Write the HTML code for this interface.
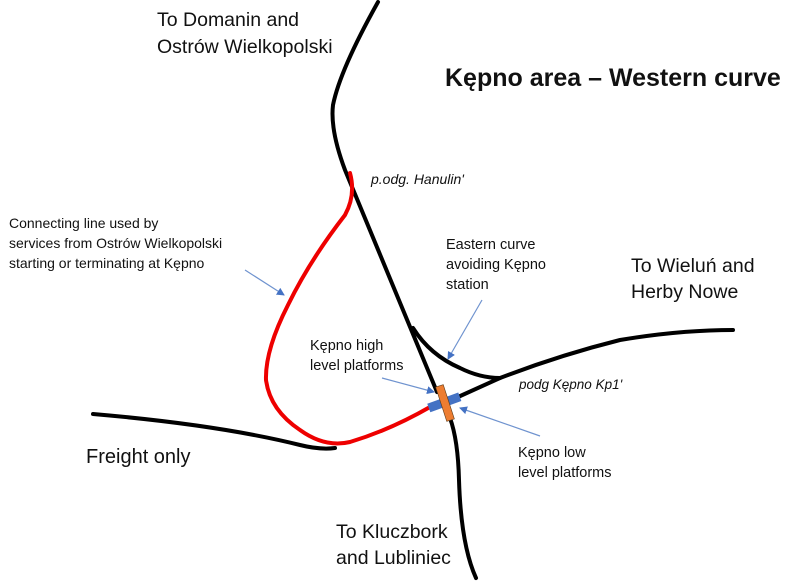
<!DOCTYPE html>
<html><head><style>
body{margin:0;background:#fff;}
svg{display:block;}
text{font-family:"Liberation Sans",sans-serif;fill:#111;}
</style></head><body>
<svg width="800" height="584" viewBox="0 0 800 584" xmlns="http://www.w3.org/2000/svg">
<defs><marker id="a" markerWidth="8" markerHeight="8" refX="7" refY="4" orient="auto" markerUnits="userSpaceOnUse"><path d="M0,0 L8,4 L0,8 z" fill="#4472c4"/></marker></defs>
<g fill="none" stroke="#000" stroke-width="4" stroke-linecap="round">
<path d="M378,2 Q340,70 333,105 Q330,130 345,170 L437,392"/>
<path d="M450,418 Q458,440 459,480 Q461,545 476,578"/>
<path d="M93,414 Q220,425 300,445 Q320,450 335,448"/>
<path d="M458,397 L500,378 Q560,355 620,340 Q680,330 733,330"/>
<path d="M413,328 Q430,355 460,368 Q480,378 500,378"/>
</g>
<path d="M350,173 Q356,195 345,215 Q310,260 288,305 Q265,350 266,380 Q270,410 300,430 Q325,448 350,442 Q390,430 430,407" fill="none" stroke="#e00" stroke-width="4" stroke-linecap="round"/>
<rect x="428" y="398" width="33" height="9" fill="#4472c4" transform="rotate(-20 444 403)"/>
<rect x="441" y="385" width="8" height="36" fill="#ed7d31" stroke="#5a3a1a" stroke-width="0.6" transform="rotate(-18 445 403)"/>
<g stroke="#6f93cf" stroke-width="1.2" marker-end="url(#a)">
<line x1="245" y1="270" x2="284" y2="295"/>
<line x1="482" y1="300" x2="448" y2="359"/>
<line x1="382" y1="378" x2="434" y2="392"/>
<line x1="540" y1="436" x2="460" y2="408"/>
</g>
<text x="157" y="26" font-size="19.5">To Domanin and</text>
<text x="157" y="53" font-size="19.5">Ostrów Wielkopolski</text>
<text x="445" y="86" font-size="25" font-weight="bold">Kępno area – Western curve</text>
<text x="371" y="184" font-size="14" font-style="italic">p.odg. Hanulin'</text>
<text x="9" y="228" font-size="14">Connecting line used by</text>
<text x="9" y="248" font-size="14">services from Ostrów Wielkopolski</text>
<text x="9" y="268" font-size="14">starting or terminating at Kępno</text>
<text x="446" y="249" font-size="14.5">Eastern curve</text>
<text x="446" y="269" font-size="14.5">avoiding Kępno</text>
<text x="446" y="289" font-size="14.5">station</text>
<text x="631" y="272" font-size="19.5">To Wieluń and</text>
<text x="631" y="298" font-size="19.5">Herby Nowe</text>
<text x="310" y="350" font-size="14.5">Kępno high</text>
<text x="310" y="370" font-size="14.5">level platforms</text>
<text x="519" y="389" font-size="13.5" font-style="italic">podg Kępno Kp1'</text>
<text x="518" y="457" font-size="14.5">Kępno low</text>
<text x="518" y="477" font-size="14.5">level platforms</text>
<text x="86" y="463" font-size="20">Freight only</text>
<text x="336" y="538" font-size="19.5">To Kluczbork</text>
<text x="336" y="564" font-size="19.5">and Lubliniec</text>
</svg>
</body></html>
